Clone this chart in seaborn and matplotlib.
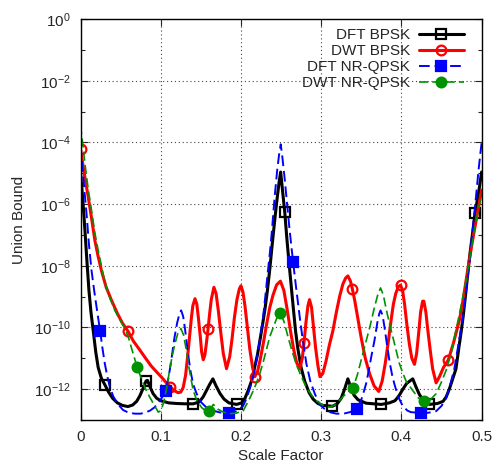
import numpy as np
import matplotlib
matplotlib.use("Agg")
import matplotlib.pyplot as plt
import matplotlib.ticker as mticker
import seaborn as sns

# union bound vs scale factor, values read as log10(union bound)
dft_bpsk_x = [0.000, 0.003, 0.0055, 0.008, 0.0105, 0.013, 0.0158, 0.019, 0.022, 0.026,
              0.0307, 0.035, 0.040, 0.046, 0.052, 0.059, 0.065, 0.070, 0.074, 0.078,
              0.0817, 0.0835, 0.087, 0.0905, 0.095, 0.100, 0.110, 0.120, 0.130, 0.1406,
              0.148, 0.153, 0.157, 0.161, 0.165, 0.169, 0.174, 0.179, 0.185, 0.1945,
              0.201, 0.205, 0.209, 0.213, 0.217, 0.2205, 0.2235, 0.227, 0.230, 0.233,
              0.236, 0.239, 0.242, 0.2445, 0.2475, 0.2495, 0.252, 0.2546, 0.2575, 0.261,
              0.265, 0.268, 0.271, 0.275, 0.2795, 0.285, 0.290, 0.296, 0.302, 0.314,
              0.320, 0.325, 0.329, 0.3333, 0.337, 0.341, 0.346, 0.356, 0.3749, 0.385,
              0.392, 0.397, 0.402, 0.4065, 0.4142, 0.418, 0.4225, 0.427, 0.435, 0.445,
              0.452, 0.456, 0.4598, 0.463, 0.468, 0.472, 0.4745, 0.477, 0.480, 0.483,
              0.486, 0.489, 0.4918, 0.4965, 0.500]
dft_bpsk_log = [-4.96, -5.9, -6.85, -7.85, -8.8, -9.5, -10.1, -10.8, -11.3, -11.65,
                -11.88, -12.1, -12.3, -12.45, -12.53, -12.57, -12.52, -12.4, -12.22, -11.98,
                -11.74, -11.72, -11.95, -12.15, -12.3, -12.38, -12.45, -12.47, -12.48, -12.48,
                -12.42, -12.25, -12.05, -11.85, -11.67, -11.9, -12.15, -12.33, -12.45, -12.5,
                -12.45, -12.3, -12.05, -11.75, -11.3, -10.9, -10.45, -9.9, -9.4, -8.8,
                -8.1, -7.3, -6.55, -5.95, -5.3, -4.96, -5.6, -6.26, -7.2, -8.2,
                -9.3, -10.1, -10.7, -11.3, -11.75, -12.12, -12.33, -12.47, -12.53, -12.56,
                -12.48, -12.3, -12.02, -11.67, -11.95, -12.2, -12.35, -12.46, -12.5, -12.45,
                -12.38, -12.22, -12.0, -11.82, -11.67, -11.92, -12.18, -12.35, -12.5, -12.47,
                -12.4, -12.25, -12.0, -11.75, -11.35, -10.6, -10.15, -9.65, -8.95, -8.2,
                -7.5, -6.9, -6.3, -5.6, -4.96]
dft_bpsk_marks = [0.0307, 0.0817, 0.1406, 0.1945, 0.2546, 0.314, 0.3749, 0.435, 0.4918]

dwt_bpsk_x = [0.000, 0.004, 0.0096, 0.014, 0.0179, 0.022, 0.026, 0.032, 0.0386, 0.046,
              0.052, 0.0593, 0.066, 0.073, 0.080, 0.088, 0.095, 0.1008, 0.106, 0.1116,
              0.117, 0.1215, 0.125, 0.128, 0.131, 0.1335, 0.136, 0.138, 0.140, 0.1427,
              0.145, 0.147, 0.1495, 0.151, 0.153, 0.155, 0.157, 0.159, 0.161, 0.163,
              0.1663, 0.169, 0.172, 0.175, 0.178, 0.182, 0.186, 0.189, 0.192, 0.195,
              0.198, 0.200, 0.2025, 0.205, 0.208, 0.211, 0.2145, 0.2173, 0.2205, 0.224,
              0.228, 0.232, 0.236, 0.240, 0.2445, 0.2492, 0.2535, 0.2575, 0.262, 0.266,
              0.2695, 0.2733, 0.2765, 0.2786, 0.281, 0.2835, 0.2855, 0.288, 0.2905, 0.293,
              0.296, 0.2985, 0.302, 0.306, 0.310, 0.3147, 0.319, 0.323, 0.327, 0.3305,
              0.3333, 0.3365, 0.3388, 0.342, 0.346, 0.350, 0.355, 0.3603, 0.366, 0.3718,
              0.376, 0.380, 0.3835, 0.387, 0.390, 0.393, 0.3962, 0.399, 0.4015, 0.404,
              0.407, 0.410, 0.413, 0.4163, 0.419, 0.4215, 0.424, 0.4265, 0.428, 0.4305,
              0.433, 0.436, 0.439, 0.4433, 0.4475, 0.4525, 0.4586, 0.465, 0.4723, 0.477,
              0.4826, 0.487, 0.491, 0.4955, 0.500]
dwt_bpsk_log = [-4.2, -4.9, -5.77, -6.5, -7.18, -7.7, -8.15, -8.7, -9.12, -9.55,
                -9.85, -10.13, -10.45, -10.7, -10.96, -11.25, -11.45, -11.61, -11.77, -11.92,
                -12.05, -12.12, -12.1, -11.95, -11.55, -10.95, -10.3, -9.75, -9.3, -9.07,
                -9.25, -9.7, -10.35, -10.8, -11.05, -10.9, -10.5, -10.05, -9.55, -9.1,
                -8.7, -8.9, -9.5, -10.2, -10.85, -11.34, -10.95, -10.35, -9.65, -9.1,
                -8.75, -8.65, -8.85, -9.3, -10.0, -10.7, -11.3, -11.6, -11.45, -11.05,
                -10.5, -9.9, -9.35, -8.95, -8.62, -8.5, -8.8, -9.4, -10.15, -10.75,
                -11.15, -11.34, -11.0, -10.5, -9.85, -9.3, -9.1, -9.35, -10.0, -10.65,
                -11.25, -11.6, -11.5, -11.1, -10.6, -10.1, -9.5, -9.0, -8.6, -8.4,
                -8.33, -8.5, -8.74, -9.15, -9.75, -10.35, -11.0, -11.5, -11.9, -12.08,
                -11.75, -11.15, -10.5, -9.8, -9.25, -8.9, -8.68, -8.63, -8.8, -9.25,
                -9.95, -10.55, -11.0, -11.2, -10.85, -10.2, -9.5, -9.15, -9.15, -9.5,
                -10.1, -10.75, -11.35, -11.8, -11.6, -11.3, -11.05, -10.5, -9.77, -9.1,
                -8.15, -7.45, -6.85, -6.2, -5.55]
dwt_bpsk_marks = [0.000, 0.0593, 0.1116, 0.159, 0.2173, 0.2786, 0.3388, 0.399, 0.4586]

dft_qpsk_x = [0.000, 0.0025, 0.005, 0.0075, 0.0105, 0.0137, 0.017, 0.020, 0.0245, 0.0275,
              0.0303, 0.0335, 0.0366, 0.041, 0.0469, 0.053, 0.060, 0.068, 0.075, 0.081,
              0.0867, 0.092, 0.097, 0.1015, 0.1062, 0.110, 0.1135, 0.117, 0.1205, 0.1235,
              0.1255, 0.128, 0.1305, 0.1335, 0.137, 0.1405, 0.1447, 0.150, 0.157, 0.165,
              0.1738, 0.1853, 0.195, 0.2027, 0.207, 0.2115, 0.2152, 0.2185, 0.2215, 0.2245,
              0.2276, 0.231, 0.2335, 0.236, 0.2385, 0.242, 0.245, 0.2475, 0.2496, 0.2515,
              0.2542, 0.2567, 0.2605, 0.265, 0.2685, 0.2733, 0.277, 0.2816, 0.2865, 0.292,
              0.298, 0.3044, 0.312, 0.319, 0.328, 0.336, 0.3445, 0.350, 0.353, 0.356,
              0.359, 0.3625, 0.3665, 0.370, 0.3725, 0.374, 0.3765, 0.379, 0.382, 0.3855,
              0.3885, 0.3914, 0.396, 0.4017, 0.4075, 0.4118, 0.4246, 0.4335, 0.4433, 0.450,
              0.4557, 0.4605, 0.466, 0.4705, 0.4743, 0.4764, 0.4805, 0.4847, 0.488, 0.491,
              0.493, 0.496, 0.4985, 0.500]
dft_qpsk_log = [-4.1, -4.85, -5.6, -6.31, -7.3, -8.15, -8.8, -9.34, -10.13, -10.7,
                -11.18, -11.6, -11.94, -12.25, -12.5, -12.68, -12.77, -12.8, -12.8, -12.76,
                -12.7, -12.6, -12.45, -12.28, -12.05, -11.6, -11.0, -10.35, -9.85, -9.55,
                -9.45, -9.65, -10.1, -10.75, -11.4, -11.85, -12.15, -12.42, -12.6, -12.7,
                -12.76, -12.78, -12.72, -12.55, -12.3, -11.95, -11.6, -11.2, -10.75, -10.25,
                -9.67, -8.85, -8.2, -7.6, -6.9, -5.77, -4.95, -4.4, -4.06, -4.45,
                -5.1, -5.77, -6.8, -7.88, -8.65, -9.67, -10.4, -11.18, -11.75, -12.15,
                -12.5, -12.65, -12.76, -12.8, -12.8, -12.75, -12.64, -12.35, -12.1, -11.83,
                -11.45, -10.95, -10.42, -9.85, -9.55, -9.45, -9.6, -10.0, -10.55, -11.15,
                -11.55, -11.85, -12.25, -12.55, -12.7, -12.75, -12.78, -12.77, -12.72, -12.55,
                -12.3, -11.9, -11.35, -10.65, -10.05, -9.75, -8.85, -7.93, -7.05, -6.3,
                -5.77, -4.95, -4.35, -4.02]
dft_qpsk_marks = [0.0245, 0.1062, 0.1853, 0.265, 0.3445, 0.4246]

dwt_qpsk_x = [0.000, 0.003, 0.0055, 0.0095, 0.0137, 0.018, 0.022, 0.026, 0.030, 0.036,
              0.0428, 0.049, 0.0556, 0.060, 0.065, 0.0705, 0.075, 0.080, 0.086, 0.0925,
              0.097, 0.1005, 0.104, 0.1075, 0.111, 0.1145, 0.118, 0.1215, 0.1252, 0.1285,
              0.132, 0.1355, 0.1405, 0.1455, 0.151, 0.1555, 0.1605, 0.1655, 0.171, 0.178,
              0.186, 0.1945, 0.203, 0.207, 0.211, 0.2155, 0.2194, 0.2235, 0.228, 0.232,
              0.236, 0.242, 0.2455, 0.2492, 0.2535, 0.2587, 0.2635, 0.269, 0.2745, 0.2816,
              0.288, 0.294, 0.302, 0.3106, 0.317, 0.323, 0.329, 0.3345, 0.3396, 0.345,
              0.3505, 0.356, 0.3615, 0.3665, 0.3705, 0.374, 0.3775, 0.381, 0.3852, 0.3893,
              0.3935, 0.3976, 0.402, 0.406, 0.4142, 0.4215, 0.4287, 0.436, 0.4433, 0.4495,
              0.4557, 0.462, 0.468, 0.4745, 0.4806, 0.4855, 0.491, 0.4955, 0.500]
dwt_qpsk_log = [-3.44, -4.1, -4.69, -5.5, -6.2, -6.95, -7.5, -8.0, -8.5, -9.0,
                -9.45, -9.75, -10.05, -10.35, -10.8, -11.28, -11.6, -11.94, -12.25, -12.55,
                -12.75, -12.7, -12.4, -11.95, -11.4, -10.9, -10.5, -10.18, -10.04, -10.25,
                -10.75, -11.35, -12.05, -12.4, -12.6, -12.7, -12.72, -12.5, -12.65, -12.75,
                -12.8, -12.78, -12.7, -12.5, -12.3, -12.05, -11.8, -11.5, -11.1, -10.7,
                -10.3, -9.88, -9.65, -9.55, -9.8, -10.31, -10.75, -11.2, -11.55, -11.95,
                -12.2, -12.38, -12.52, -12.59, -12.52, -12.37, -12.2, -12.07, -11.97, -11.55,
                -11.0, -10.45, -9.9, -9.34, -8.95, -8.72, -8.95, -9.4, -9.88, -10.31,
                -10.75, -11.18, -11.5, -11.75, -12.05, -12.3, -12.4, -12.35, -12.15, -11.8,
                -11.4, -10.85, -10.1, -9.3, -8.47, -7.7, -6.85, -6.25, -5.65]
dwt_qpsk_marks = [0.0705, 0.1605, 0.2492, 0.3396, 0.4287]

sns.set_style("ticks")
plt.rcParams["font.family"] = ["Liberation Sans", "DejaVu Sans"]
plt.rcParams["mathtext.default"] = "regular"
plt.rcParams["font.size"] = 11

fig, ax = plt.subplots(figsize=(4.97, 4.67), dpi=100)
fig.subplots_adjust(left=0.162, right=0.969, bottom=0.101, top=0.959)

series = [
    ("DFT BPSK", dft_bpsk_x, dft_bpsk_log, dft_bpsk_marks, "black", "-", 2.2, "s", "none"),
    ("DWT BPSK", dwt_bpsk_x, dwt_bpsk_log, dwt_bpsk_marks, "#ff0000", "-", 2.2, "o", "none"),
    ("DFT NR-QPSK", dft_qpsk_x, dft_qpsk_log, dft_qpsk_marks, "#0000ff", (0, (5.5, 2.5)), 1.4, "s", "#0000ff"),
    ("DWT NR-QPSK", dwt_qpsk_x, dwt_qpsk_log, dwt_qpsk_marks, "#009200", (0, (5.5, 2.5)), 1.2, "o", "#009200"),
]
for name, xs, logs, marks, col, ls, lw, mk, face in series:
    idx = [xs.index(m) for m in marks]
    sns.lineplot(x=xs, y=np.power(10.0, logs), ax=ax, color=col, linestyle=ls, linewidth=lw,
                 marker=mk, markevery=idx, markersize=7, markerfacecolor=face,
                 markeredgecolor=col, markeredgewidth=1.6, label=name, sort=False)

ax.set_yscale("log")
ax.set_xlim(0, 0.5)
ax.set_ylim(1e-13, 1)
ax.xaxis.set_major_locator(mticker.MultipleLocator(0.1))
ax.xaxis.set_major_formatter(mticker.FuncFormatter(lambda v, p: "0" if v == 0 else f"{v:.1f}"))
ax.yaxis.set_major_locator(mticker.FixedLocator([10.0 ** e for e in range(-12, 1, 2)]))
ax.yaxis.set_minor_locator(mticker.FixedLocator([10.0 ** e for e in range(-13, 0, 2)]))
ax.yaxis.set_major_formatter(mticker.FuncFormatter(lambda v, p: f"$10^{{{int(round(np.log10(v)))}}}$"))
ax.yaxis.set_minor_formatter(mticker.NullFormatter())
ax.tick_params(which="both", direction="in", top=True, right=True, labelsize=11)
ax.tick_params(which="major", length=5, width=0.8, pad=7)
ax.tick_params(which="minor", length=3, width=0.8)
ax.grid(True, which="major", color="#444444", linestyle=(0, (1, 2.5)), linewidth=0.8)
for s in ax.spines.values():
    s.set_linewidth(1.0)
    s.set_color("black")

ax.set_xlabel("Scale Factor", fontsize=11, labelpad=4)
ax.set_ylabel("Union Bound", fontsize=11, labelpad=6)

ax.legend(loc="upper right", bbox_to_anchor=(0.98, 1.0), frameon=False, markerfirst=False,
          handlelength=3.0, handletextpad=0.55, labelspacing=0.13, borderpad=0.1, fontsize=11)

fig.savefig("out.png", dpi=100)
